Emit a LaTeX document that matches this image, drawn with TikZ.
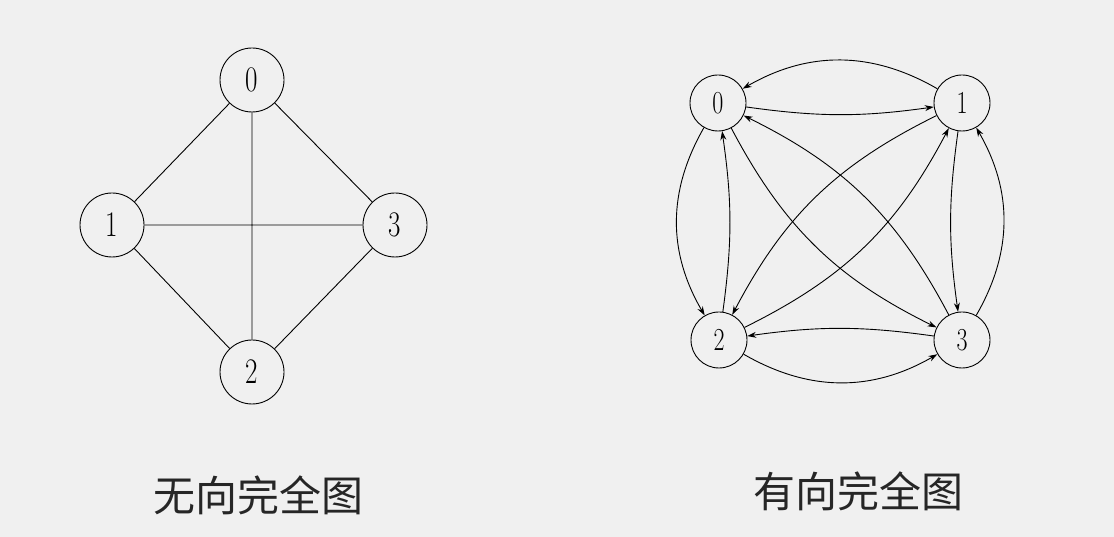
\documentclass[tikz,border=0pt]{standalone}
\usepackage{fontspec}
\newfontfamily\cjk{Noto Sans CJK SC}
\usetikzlibrary{arrows.meta}
\begin{document}
\begin{tikzpicture}[x=1pt,y=1pt,
  vA/.style={circle,draw,line width=0.9pt,minimum size=64pt,inner sep=0pt,font=\fontsize{36}{36}\selectfont},
  vB/.style={circle,draw,line width=0.9pt,minimum size=56pt,inner sep=0pt,font=\fontsize{32}{32}\selectfont},
  ed/.style={line width=0.9pt},
  ar/.style={line width=0.9pt,-{Stealth[length=9pt,width=6pt]}},
  lbl/.style={font=\cjk\fontsize{42}{42}\selectfont,text=black!85}]
\fill[white!94!black] (0,0) rectangle (1114,537);
\useasboundingbox (0,0) rectangle (1114,537);
% left
\node[vA] (a0) at (252,457) {\scalebox{0.75}[1]{0}};
\node[vA] (a1) at (112,312) {\scalebox{0.75}[1]{1}};
\node[vA] (a3) at (395,312) {\scalebox{0.75}[1]{3}};
\node[vA] (a2) at (252,165) {\scalebox{0.75}[1]{2}};
\draw[ed] (a0)--(a1) (a0)--(a3) (a0)--(a2) (a1)--(a3) (a1)--(a2) (a3)--(a2);
% right
\node[vB] (b0) at (718,434) {\scalebox{0.75}[1]{0}};
\node[vB] (b1) at (962,434) {\scalebox{0.75}[1]{1}};
\node[vB] (b2) at (719,197) {\scalebox{0.75}[1]{2}};
\node[vB] (b3) at (962,197) {\scalebox{0.75}[1]{3}};
\draw[ar] (b1) to[bend right=30] (b0);
\draw[ar] (b0) to[bend right=8] (b1);
\draw[ar] (b0) to[bend right=30] (b2);
\draw[ar] (b2) to[bend right=8] (b0);
\draw[ar] (b2) to[bend right=30] (b3);
\draw[ar] (b3) to[bend right=8] (b2);
\draw[ar] (b3) to[bend right=30] (b1);
\draw[ar] (b1) to[bend right=8] (b3);
\draw[ar] (b0) to[bend right=18] (b3);
\draw[ar] (b3) to[bend right=18] (b0);
\draw[ar] (b1) to[bend right=18] (b2);
\draw[ar] (b2) to[bend right=18] (b1);
\node[lbl] (t1) at (258,42) {无向完全图};
\node[lbl] (t2) at (858,46) {有向完全图};
\end{tikzpicture}
\end{document}
